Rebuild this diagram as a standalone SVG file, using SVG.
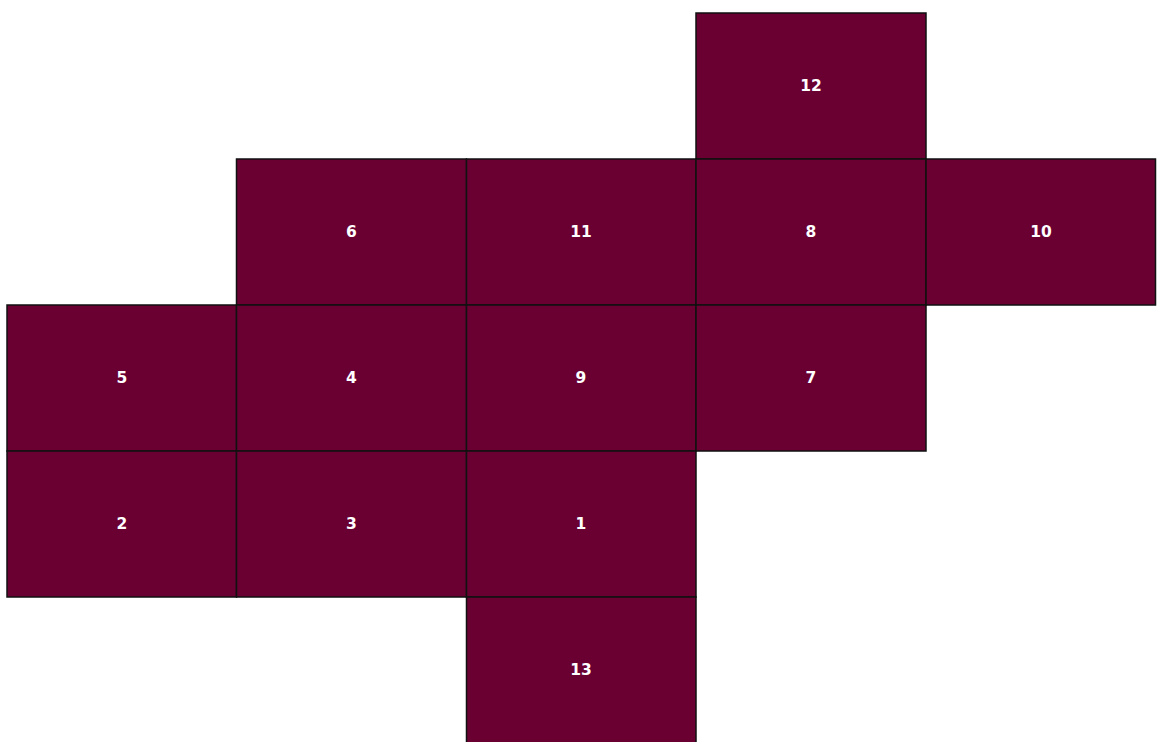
<svg xmlns="http://www.w3.org/2000/svg" width="1168" height="742" viewBox="0 0 1168 742">
<style>
.c rect{fill:#6a0032;stroke:#111;stroke-width:1.5}
.c text{fill:#fff;font-family:"DejaVu Sans","Liberation Sans",Arial,sans-serif;font-weight:bold;font-size:15.5px;text-anchor:middle;dominant-baseline:central}
</style>
<rect width="1168" height="742" fill="#fff"/>
<g class="c" id="n12"><rect x="696" y="13" width="230" height="146"/><text x="811" y="86">12</text></g>
<g class="c" id="n6"><rect x="236.5" y="159" width="230" height="146"/><text x="351.5" y="232">6</text></g>
<g class="c" id="n11"><rect x="466.5" y="159" width="229.5" height="146"/><text x="581" y="232">11</text></g>
<g class="c" id="n8"><rect x="696" y="159" width="230" height="146"/><text x="811" y="232">8</text></g>
<g class="c" id="n10"><rect x="926" y="159" width="229.5" height="146"/><text x="1041" y="232">10</text></g>
<g class="c" id="n5"><rect x="7" y="305" width="229.5" height="146"/><text x="122" y="378">5</text></g>
<g class="c" id="n4"><rect x="236.5" y="305" width="230" height="146"/><text x="351.5" y="378">4</text></g>
<g class="c" id="n9"><rect x="466.5" y="305" width="229.5" height="146"/><text x="581" y="378">9</text></g>
<g class="c" id="n7"><rect x="696" y="305" width="230" height="146"/><text x="811" y="378">7</text></g>
<g class="c" id="n2"><rect x="7" y="451" width="229.5" height="146"/><text x="122" y="524">2</text></g>
<g class="c" id="n3"><rect x="236.5" y="451" width="230" height="146"/><text x="351.5" y="524">3</text></g>
<g class="c" id="n1"><rect x="466.5" y="451" width="229.5" height="146"/><text x="581" y="524">1</text></g>
<g class="c" id="n13"><rect x="466.5" y="597" width="229.5" height="146"/><text x="581" y="670">13</text></g>
<g id="connectors"></g>
</svg>
